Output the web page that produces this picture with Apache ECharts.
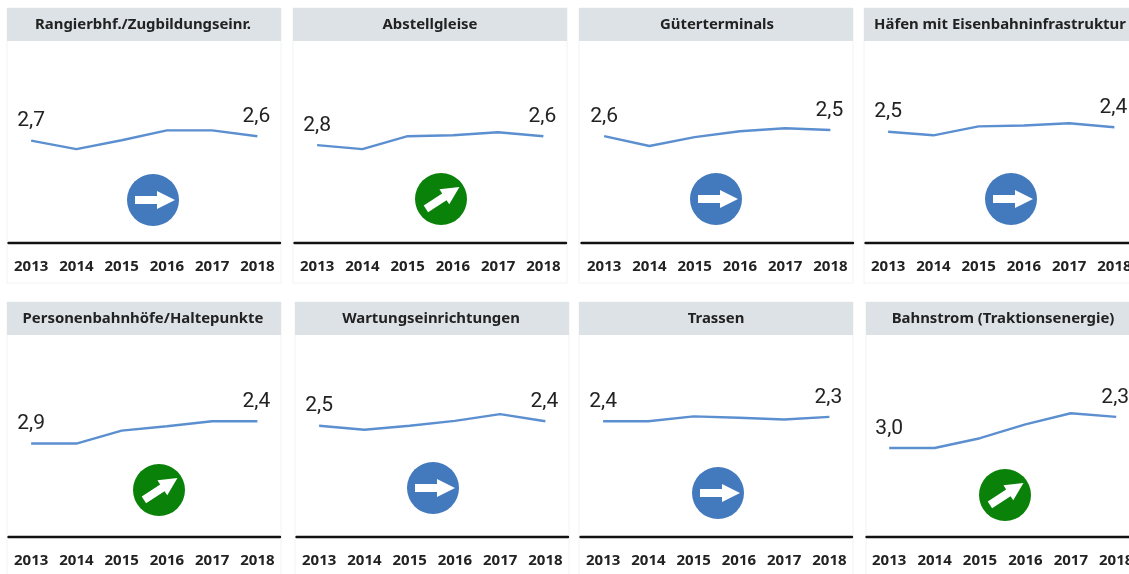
<!DOCTYPE html>
<html><head><meta charset="utf-8">
<style>html,body{margin:0;padding:0;background:#fff;overflow:hidden}#c{width:1129px;height:574px}</style>
<script src="https://cdn.jsdelivr.net/npm/echarts@6/dist/echarts.min.js"></script></head>
<body><div id="c"></div>
<script>
const years = ['2013','2014','2015','2016','2017','2018'];
const titles = ['Rangierbhf./Zugbildungseinr.','Abstellgleise','Güterterminals','Häfen mit Eisenbahninfrastruktur','Personenbahnhöfe/Haltepunkte','Wartungseinrichtungen','Trassen','Bahnstrom (Traktionsenergie)'];
const rangier = [2.7,2.89,2.69,2.47,2.47,2.6];
const abstell = [2.8,2.89,2.6,2.58,2.51,2.6];
const gueter = [2.6,2.82,2.62,2.49,2.42,2.46];
const haefen = [2.5,2.58,2.38,2.36,2.31,2.4];
const personen = [2.9,2.9,2.61,2.51,2.4,2.4];
const wartung = [2.5,2.59,2.5,2.39,2.24,2.4];
const trassen = [2.4,2.4,2.29,2.32,2.36,2.3];
const bahnstrom = [3.0,3.0,2.78,2.47,2.22,2.3];
const seriesValues = [rangier,abstell,gueter,haefen,personen,wartung,trassen,bahnstrom];
const trend = ['flat','up','flat','flat','up','flat','flat','up'];
// layout
const cardX = [7,293,579,864,7,295,579,866];
const titleX = [143,430,717,1000,143,431,716,1003];
const gridLeft = [8.5,294.5,581.5,865.5,8.5,296.5,580.5,866.5];
const badge = [[153,200],[441,199],[716,199],[1011,199],[159,490],[433,488],[718,493],[1005,495]];
const rowTop = i => i<4 ? 8 : 302;
const colors = {flat:'#4379bd',up:'#0a820a'};

const grid=[],xAxis=[],yAxis=[],series=[],title=[],graphic=[];
const arrowPts=[[-18,-4],[4,-4],[4,-9],[22,0],[4,9],[4,4],[-18,4]];
titles.forEach((t,i)=>{
  const top=rowTop(i), cw=274;
  graphic.push({type:'rect',z:-2,shape:{x:cardX[i],y:top,width:cw,height:275},style:{fill:'#fff',stroke:'#f1f2f3',lineWidth:1}});
  graphic.push({type:'rect',z:-1,shape:{x:cardX[i],y:top,width:cw,height:33},style:{fill:'#dde2e6'}});
  title.push({text:t,left:titleX[i],top:top+9,padding:0,textAlign:'center',
    textStyle:{fontFamily:'Noto Sans',fontWeight:'bold',fontSize:14.9,color:'#222'}});
  grid.push({left:gridLeft[i],top:top+57,width:i==7?272.4:271.5,height:178,outerBoundsMode:'none',containLabel:false});
  xAxis.push({type:'category',gridIndex:i,data:years,
    axisLine:{lineStyle:{color:'#111',width:2.4}},axisTick:{show:false},
    axisLabel:{interval:0,margin:16,color:'#222',fontFamily:'Noto Sans',fontWeight:'bold',fontSize:15}});
  yAxis.push({type:'value',gridIndex:i,min:1,max:5,inverse:true,show:false,splitLine:{show:false}});
  series.push({type:'line',xAxisIndex:i,yAxisIndex:i,data:seriesValues[i].map((v,j)=>({
      value:v,
      label:{show:j==0||j==5,position:'top',distance:9,offset:[j==5?-1:0,0],
        formatter:p=>p.value.toFixed(1).replace('.',','),
        fontFamily:'Roboto',fontSize:21,color:'#222'}
    })),
    symbol:'circle',symbolSize:0.1,showSymbol:true,showAllSymbol:true,itemStyle:{color:'#5b8fd0'},
    smooth:false,lineStyle:{color:'#5b8fd0',width:2.4},silent:true,clip:false});
  const [bx,by]=badge[i];
  graphic.push({type:'circle',shape:{cx:bx,cy:by,r:26},style:{fill:colors[trend[i]]}});
  graphic.push({type:'polygon',x:bx,y:by,rotation:trend[i]=='up'?Math.PI*33/180:0,
    shape:{points:arrowPts},style:{fill:'#fff'}});
});
const chart=echarts.init(document.getElementById('c'),null,{renderer:'canvas'});
chart.setOption({animation:false,backgroundColor:'#fff',title,grid,xAxis,yAxis,series,graphic:{elements:graphic}});
</script></body></html>
